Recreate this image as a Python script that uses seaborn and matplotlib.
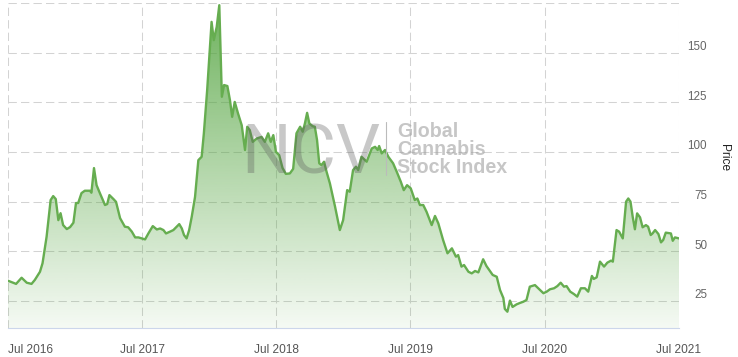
import numpy as np
import pandas as pd
import matplotlib
matplotlib.use("Agg")
import matplotlib.pyplot as plt
import matplotlib.dates as mdates
from matplotlib.lines import Line2D
from matplotlib.transforms import ScaledTranslation
import seaborn as sns

# NCV Global Cannabis Stock Index
dates = [
    "2016-07-01", "2016-07-23", "2016-08-07", "2016-08-21", "2016-09-03", "2016-09-12", "2016-09-26", "2016-10-03", "2016-10-14", "2016-10-25",
    "2016-11-01", "2016-11-08", "2016-11-15", "2016-11-21", "2016-11-28", "2016-12-08", "2016-12-17", "2016-12-26", "2017-01-02", "2017-01-08",
    "2017-01-17", "2017-01-26", "2017-02-09", "2017-02-13", "2017-02-20", "2017-02-27", "2017-03-08", "2017-03-22", "2017-03-28", "2017-04-03",
    "2017-04-14", "2017-04-21", "2017-05-02", "2017-05-15", "2017-05-24", "2017-06-03", "2017-06-12", "2017-06-21", "2017-06-30", "2017-07-09",
    "2017-07-18", "2017-07-30", "2017-08-10", "2017-08-19", "2017-08-28", "2017-09-04", "2017-09-15", "2017-09-24", "2017-10-03", "2017-10-10",
    "2017-10-17", "2017-10-23", "2017-10-30", "2017-11-06", "2017-11-13", "2017-11-22", "2017-12-01", "2017-12-10", "2017-12-16", "2017-12-25",
    "2018-01-06", "2018-01-12", "2018-01-20", "2018-01-27", "2018-02-03", "2018-02-09", "2018-02-18", "2018-02-25", "2018-03-03", "2018-03-10",
    "2018-03-19", "2018-03-29", "2018-04-07", "2018-04-13", "2018-04-20", "2018-04-28", "2018-05-09", "2018-05-22", "2018-05-31", "2018-06-09",
    "2018-06-16", "2018-06-23", "2018-06-30", "2018-07-09", "2018-07-18", "2018-07-27", "2018-08-07", "2018-08-16", "2018-08-25", "2018-09-04",
    "2018-09-11", "2018-09-17", "2018-09-23", "2018-09-29", "2018-10-08", "2018-10-14", "2018-10-20", "2018-10-26", "2018-11-01", "2018-11-08",
    "2018-11-15", "2018-11-24", "2018-12-08", "2018-12-21", "2018-12-30", "2019-01-10", "2019-01-17", "2019-01-26", "2019-02-03", "2019-02-09",
    "2019-02-18", "2019-03-04", "2019-03-18", "2019-03-27", "2019-04-03", "2019-04-07", "2019-04-14", "2019-04-23", "2019-05-02", "2019-05-15",
    "2019-05-25", "2019-06-05", "2019-06-13", "2019-06-22", "2019-07-02", "2019-07-13", "2019-07-20", "2019-07-27", "2019-08-05", "2019-08-14",
    "2019-08-28", "2019-09-06", "2019-09-15", "2019-09-28", "2019-10-10", "2019-10-22", "2019-11-02", "2019-11-08", "2019-11-17", "2019-11-24",
    "2019-12-06", "2019-12-15", "2019-12-24", "2020-01-02", "2020-01-15", "2020-01-24", "2020-02-10", "2020-02-21", "2020-03-01", "2020-03-10",
    "2020-03-14", "2020-03-21", "2020-03-28", "2020-04-04", "2020-04-15", "2020-04-24", "2020-05-03", "2020-05-12", "2020-05-21", "2020-06-04",
    "2020-06-13", "2020-06-27", "2020-07-06", "2020-07-15", "2020-07-26", "2020-08-04", "2020-08-13", "2020-08-22", "2020-08-29", "2020-09-08",
    "2020-09-18", "2020-09-27", "2020-10-07", "2020-10-18", "2020-10-27", "2020-11-06", "2020-11-11", "2020-11-19", "2020-11-28", "2020-12-09",
    "2020-12-18", "2020-12-28", "2021-01-02", "2021-01-12", "2021-01-19", "2021-01-29", "2021-02-07", "2021-02-13", "2021-02-19", "2021-02-25",
    "2021-03-03", "2021-03-09", "2021-03-17", "2021-03-24", "2021-04-02", "2021-04-08", "2021-04-15", "2021-04-20", "2021-04-27", "2021-05-06",
    "2021-05-13", "2021-05-19", "2021-05-26", "2021-06-09", "2021-06-14", "2021-06-20", "2021-07-01",
]
price = [
    35.2, 33.6, 36.7, 34.2, 33.6, 35.6, 39.7, 44.0, 57.3, 75.8,
    77.8, 76.3, 65.7, 69.2, 63.2, 61.2, 62.2, 64.4, 74.3, 74.3,
    79.3, 80.5, 80.5, 79.5, 91.9, 83.3, 79.3, 73.3, 73.8, 78.3,
    76.3, 74.9, 66.7, 62.4, 62.1, 59.9, 57.0, 57.0, 56.5, 56.0,
    59.0, 62.7, 61.0, 61.5, 60.7, 59.0, 59.9, 60.7, 62.4, 63.7,
    61.5, 58.2, 56.5, 60.7, 67.4, 77.4, 95.9, 97.6, 109.4, 131.2,
    165.5, 156.3, 163.0, 173.9, 127.8, 133.7, 133.2, 126.1, 117.7, 125.2,
    119.4, 113.5, 101.0, 112.7, 111.0, 105.1, 106.8, 107.6, 105.1, 109.4,
    105.1, 108.5, 100.1, 98.4, 92.0, 89.0, 89.2, 91.5, 109.4, 112.7,
    110.2, 114.4, 119.7, 114.4, 113.0, 112.7, 106.0, 94.3, 93.4, 95.1,
    90.0, 84.2, 72.5, 60.7, 65.7, 80.8, 80.0, 90.9, 92.6, 90.9,
    97.6, 95.1, 101.8, 102.6, 101.0, 103.0, 99.3, 101.0, 97.6, 94.3,
    90.0, 85.0, 80.8, 83.3, 81.7, 75.8, 76.6, 73.3, 73.3, 69.9,
    63.2, 67.8, 64.1, 55.7, 49.0, 51.5, 47.3, 48.1, 42.3, 43.1,
    39.7, 38.9, 40.1, 39.4, 46.0, 42.6, 38.1, 37.2, 30.5, 26.5,
    21.0, 19.6, 25.2, 22.0, 23.3, 24.0, 24.6, 25.5, 32.2, 33.0,
    31.4, 28.9, 29.7, 30.9, 31.4, 32.5, 34.2, 32.2, 32.5, 29.7,
    28.5, 27.2, 31.4, 31.4, 29.7, 37.6, 36.1, 36.9, 44.8, 42.3,
    44.3, 45.3, 44.8, 60.7, 59.9, 56.5, 75.0, 76.6, 75.0, 67.4,
    61.1, 69.1, 67.1, 62.1, 63.2, 62.4, 58.2, 59.0, 60.7, 58.7,
    54.5, 55.7, 59.4, 59.0, 55.3, 57.0, 56.5,
]
y_ticks = [25, 50, 75, 100, 125, 150, 175]
y_min, y_max = 11.4, 175
x_start, x_end = "2016-07-01", "2021-07-01"

df = pd.DataFrame({"Date": pd.to_datetime(dates), "Price": price})

sns.set_theme(style="white")
plt.rcParams["font.family"] = ["Liberation Sans", "DejaVu Sans"]

fig = plt.figure(figsize=(7.38, 3.57), dpi=100)
ax = fig.add_axes([8 / 738, 1 - 328 / 357, 671 / 738, 325 / 357])

# gradient area under the line
poly = ax.fill_between(df["Date"], df["Price"], y_min, facecolor="none", edgecolor="none")
base = np.array([85, 165, 65]) / 255
alpha = np.linspace(0.85, 0.06, 256)
grad = np.zeros((256, 1, 4))
grad[:, 0, :3] = base
grad[:, 0, 3] = alpha
x0 = mdates.date2num(pd.Timestamp(x_start))
x1 = mdates.date2num(pd.Timestamp(x_end))
im = ax.imshow(grad, extent=[x0, x1, y_min, 174], aspect="auto", origin="upper", zorder=2)
im.set_clip_path(poly.get_paths()[0], transform=ax.transData)

sns.lineplot(data=df, x="Date", y="Price", color="#66ad50", linewidth=1.7, ax=ax, zorder=3)

ax.set_xlim(pd.Timestamp(x_start), pd.Timestamp(x_end))
ax.set_ylim(y_min, y_max)

# axes styling
ax.xaxis.set_major_locator(mdates.MonthLocator(bymonth=7))
ax.xaxis.set_major_formatter(mdates.DateFormatter("%b %Y"))
ax.set_yticks(y_ticks)
ax.set_yticklabels([str(t) if t < 175 else "" for t in y_ticks])
ax.yaxis.tick_right()
ax.grid(True, color="#d3d3d3", linestyle=(0, (8, 4)), linewidth=0.75, zorder=1)
ax.set_axisbelow(True)
for s in ["top", "left", "right"]:
    ax.spines[s].set_visible(False)
ax.spines["bottom"].set_color("#ccd6eb")
ax.spines["bottom"].set_linewidth(0.8)
ax.tick_params(axis="x", length=3.6, width=0.75, color="#ccd6eb", pad=8, labelsize=8.6, labelcolor="#555555")
ax.tick_params(axis="y", length=0, pad=20.2, labelsize=8.4, labelcolor="#666666")
for lab in ax.get_yticklabels():
    lab.set_horizontalalignment("right")
    lab.set_transform(lab.get_transform() + ScaledTranslation(0, 7 / 100, fig.dpi_scale_trans))
ax.get_xticklabels()[0].set_horizontalalignment("left")

ax.set_xlabel("")
ax.yaxis.set_label_position("right")
ax.set_ylabel("Price", rotation=270, fontsize=8.6, color="#222222")
ax.yaxis.set_label_coords(1.076, 0.523)

# watermark
fig.text(241 / 738, 1 - 173 / 357, "NCV", fontsize=50, family=["Roboto", "DejaVu Sans"],
         color="#5a5a5a", alpha=0.33, va="baseline", ha="left", zorder=5)
fig.add_artist(Line2D([386 / 738, 386 / 738], [1 - 122 / 357, 1 - 175 / 357],
                      transform=fig.transFigure, color="#bbbbbb", linewidth=0.8, zorder=5))
for txt, base_y in [("Global", 137), ("Cannabis", 155), ("Stock Index", 173)]:
    fig.text(397 / 738, 1 - base_y / 357, txt, fontsize=14.1, fontweight="bold",
             color="#a0a0a0", alpha=0.6, va="baseline", ha="left", zorder=5)

fig.savefig("out.png", dpi=100)
